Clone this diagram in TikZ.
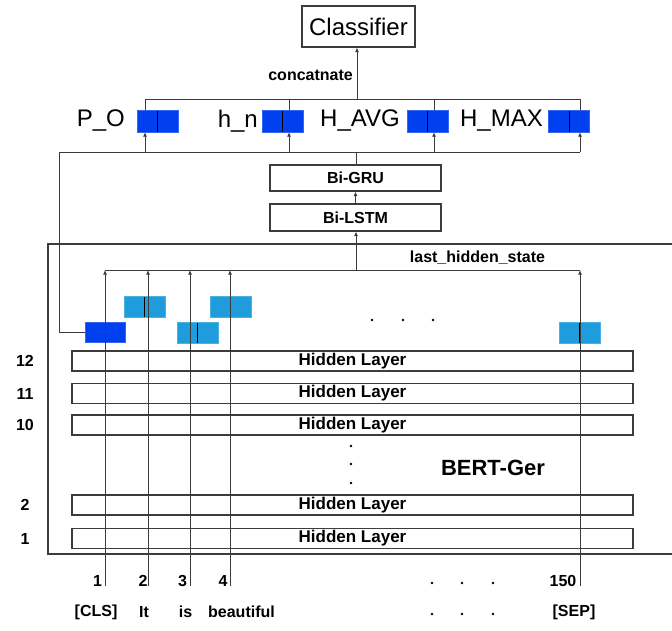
\documentclass[tikz,border=0pt]{standalone}
\usepackage{fontspec}
\setmainfont{Liberation Sans}
\usetikzlibrary{arrows.meta,calc}
\definecolor{deepblue}{RGB}{0,64,238}
\definecolor{skyblue}{RGB}{30,156,219}
\definecolor{linegray}{RGB}{60,60,60}
\begin{document}
\begin{tikzpicture}[x=1pt,y=-1pt,
  conn/.style={draw=linegray,line width=1pt},
  arr/.style={conn,-{Latex[length=4.5pt,width=4pt]}},
  box/.style={draw=linegray,line width=1.2pt,fill=white,inner sep=0pt},
  smallbold/.style={font=\fontsize{16}{18}\selectfont\bfseries},
  bigtext/.style={font=\fontsize{24}{26}\selectfont},
  vec/.style={minimum width=41pt,minimum height=22pt,inner sep=0pt,
    path picture={\draw[black,line width=1pt]
      (path picture bounding box.north) -- (path picture bounding box.south);}},
  topvec/.style={vec,fill=deepblue,draw=deepblue!80!white},
  tokdark/.style={vec,minimum width=40pt,minimum height=20pt,fill=deepblue,draw=deepblue!80!white},
  toklight/.style={vec,minimum width=41pt,minimum height=21pt,fill=skyblue,draw=skyblue!80!white},
  layer/.style={box,minimum width=561pt,minimum height=20pt,font=\fontsize{17}{18}\selectfont\bfseries},
  lbl/.style={inner sep=0pt},
]
\useasboundingbox (0,0) rectangle (672,630);

% ---- classifier and pooled vectors ----
\node[box,minimum width=113pt,minimum height=41pt,bigtext] (classifier) at (358.5,26.5) {Classifier};

\node[topvec] (vPO) at (157.5,121) {};
\node[topvec] (vHN) at (282.5,121) {};
\node[topvec] (vAVG) at (427.5,121) {};
\node[topvec] (vMAX) at (569,121) {};
\node[lbl,bigtext,anchor=east] (tPO) at (125,121) {P\_O};
\node[lbl,bigtext,anchor=east] (tHN) at (258,121) {h\_n};
\node[lbl,bigtext,anchor=east] (tAVG) at (400,121) {H\_AVG};
\node[lbl,bigtext,anchor=east] (tMAX) at (543,121) {H\_MAX};

% concatenation bus
\coordinate (ct1) at (145,99);
\coordinate (ct2) at (289,99);
\coordinate (ct3) at (434,99);
\coordinate (ct4) at (580,99);
\coordinate (ctm) at (357,99);
\draw[conn] (ct1) -- (ct4);
\foreach \c/\v in {ct1/vPO,ct2/vHN,ct3/vAVG,ct4/vMAX}
  \draw[conn] (\c) -- (\c |- \v.north);
\draw[arr] (ctm) -- (ctm |- classifier.south);
\node[lbl,smallbold,anchor=east] (concat) at (353,75) {concatnate};

% input bus of the pooled vectors
\coordinate (cb0) at (59,152);
\coordinate (cb1) at (145,152);
\coordinate (cb2) at (289,152);
\coordinate (cb3) at (434,152);
\coordinate (cb4) at (580,152);
\coordinate (cbm) at (356,152);
\draw[conn] (cb0) -- (cb4);
\foreach \c/\v in {cb1/vPO,cb2/vHN,cb3/vAVG,cb4/vMAX}
  \draw[arr] (\c) -- (\c |- \v.south);

% ---- recurrent layers ----
\node[box,minimum width=171pt,minimum height=26pt,smallbold] (gru) at (355.5,178) {Bi-GRU};
\node[box,minimum width=171pt,minimum height=27pt,smallbold] (lstm) at (355.5,217.5) {Bi-LSTM};
\draw[conn] (gru.north -| cbm) -- (cbm);
\draw[arr] (lstm.north) -- (gru.south);

% ---- BERT block ----
\draw[linegray,line width=1.2pt] (672,244) -- (48,244) -- (48,554) -- (672,554);

\node[layer] (h12) at (352.5,361) {Hidden Layer};
\node[layer] (h11) at (352.5,393.5) {Hidden Layer};
\node[layer] (h10) at (352.5,425) {Hidden Layer};
\node[layer] (h2) at (352.5,505) {Hidden Layer};
\node[layer] (h1) at (352.5,538.5) {Hidden Layer};
\foreach \n/\y in {12/361,11/393.5,10/425,2/505,1/538.5}
  \node[lbl,smallbold] at (25,\y) {\n};
\foreach \y in {446,464,483}
  \fill (351,\y) circle (1.3pt);
\node[lbl,font=\fontsize{22}{24}\selectfont\bfseries] (bert) at (493,468) {BERT-Ger};

% token output vectors
\node[tokdark] (sCLS) at (105,332.5) {};
\node[toklight] (sIt) at (144.5,306.5) {};
\node[toklight] (sIs) at (197.5,332.5) {};
\node[toklight] (sBeau) at (230.5,306.5) {};
\node[toklight] (sSEP) at (579.5,333) {};
\foreach \x in {372,403,433}
  \fill (\x,320) circle (1.3pt);

% CLS vector feeds the pooled-vector bus
\draw[conn] (sCLS.west) -| (cb0);

% last_hidden_state bus
\coordinate (lh1) at (105,270);
\coordinate (lh2) at (148,270);
\coordinate (lh3) at (190,270);
\coordinate (lh4) at (230,270);
\coordinate (lh5) at (580,270);
\coordinate (lhm) at (356,270);
\draw[conn] (lh1) -- (lh5);
\draw[arr] (lhm) -- (lhm |- lstm.south);
\node[lbl,smallbold] (lhs) at (477.5,258) {last\_hidden\_state};

% token inputs running up through the encoder
\coordinate (in1) at (105,586);
\coordinate (in2) at (148,586);
\coordinate (in3) at (190,586);
\coordinate (in4) at (230,586);
\coordinate (in5) at (580,586);
\foreach \i in {1,...,5}
  \draw[arr] (in\i) -- (lh\i);

% position numbers and tokens
\node[lbl,smallbold] (n1) at (97.5,581) {1};
\node[lbl,smallbold] (n2) at (143,581) {2};
\node[lbl,smallbold] (n3) at (182.5,581) {3};
\node[lbl,smallbold] (n4) at (223,581) {4};
\node[lbl,smallbold] (n150) at (563,581) {150};
\foreach \x in {432,462,493} {
  \fill (\x,583) circle (1.3pt);
  \fill (\x,614) circle (1.3pt);
}
\node[lbl,smallbold] (wCLS) at (96,612) {[CLS]};
\node[lbl,smallbold] (wIt) at (144,612) {It};
\node[lbl,smallbold] (wIs) at (185.5,612) {is};
\node[lbl,smallbold] (wBeau) at (241.5,612) {beautiful};
\node[lbl,smallbold] (wSEP) at (574,612) {[SEP]};
\end{tikzpicture}
\end{document}
